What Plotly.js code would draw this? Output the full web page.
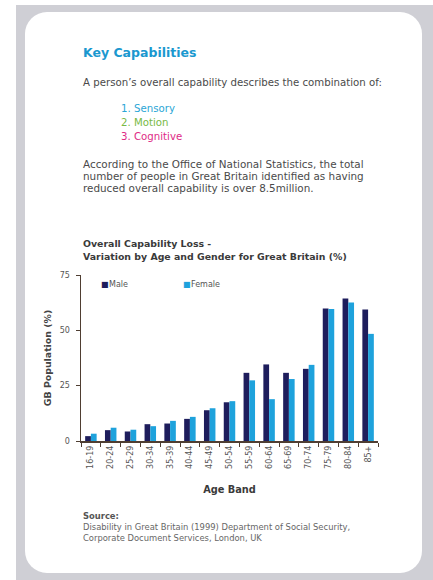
<!DOCTYPE html>
<html>
<head>
<meta charset="utf-8">
<script src="https://cdn.plot.ly/plotly-3.0.1.min.js"></script>
<style>
  html, body { margin: 0; padding: 0; background: #ffffff; }
  #wrap { position: relative; width: 433px; height: 580px; overflow: hidden; }
  #grey { position: absolute; left: 16px; top: 5px; width: 417px; height: 575px; background: #cfcfd5; }
  #card { position: absolute; left: 25px; top: 12px; width: 397px; height: 561px; background: #ffffff; border-radius: 22px; }
  #chart { position: absolute; left: 0; top: 0; width: 433px; height: 580px; }
</style>
</head>
<body>
<div id="wrap">
  <div id="grey"></div>
  <div id="card"></div>
  <div id="chart"></div>
</div>
<script>
// ---- data ----
var ageBands = ["16-19","20-24","25-29","30-34","35-39","40-44","45-49","50-54","55-59","60-64","65-69","70-74","75-79","80-84","85+"];
var maleValues = [2.2, 4.9, 4.3, 7.6, 7.9, 10.0, 13.9, 17.5, 30.8, 34.6, 30.8, 32.6, 59.9, 64.4, 59.4];
var femaleValues = [3.3, 6.0, 5.1, 6.7, 9.1, 10.9, 14.8, 18.0, 27.4, 18.9, 28.0, 34.4, 59.6, 62.6, 48.4];
var seriesNames = ["Male", "Female"];
var yTicks = [0, 25, 50, 75];

// ---- layout geometry (pixels) ----
var W = 433, H = 580;
var L = 81, R = 378, T = 275, B = 441;
function px(x) { return (x - L) / (R - L); }
function py(y) { return (B - y) / (B - T); }

var maleColor = "#1e1d5c", femaleColor = "#1ea2dc";
var FONT = "DejaVu Sans, sans-serif";
var textGrey = "#4a4a4a";
var axisColor = "#4f3e32";

var traces = [
  { type: "bar", name: seriesNames[0], x: ageBands, y: maleValues, marker: { color: maleColor }, hoverinfo: "x+y" },
  { type: "bar", name: seriesNames[1], x: ageBands, y: femaleValues, marker: { color: femaleColor }, hoverinfo: "x+y" }
];

function ann(text, x, y, opts) {
  var a = { text: text, xref: "paper", yref: "paper", x: px(x), y: py(y), xanchor: "left", yanchor: "middle",
            showarrow: false, font: { family: FONT, size: 10, color: textGrey } };
  for (var k in opts) a[k] = opts[k];
  return a;
}

var annotations = [
  ann("<b>Key Capabilities</b>", 81, 53, { font: { family: FONT, size: 12.5, color: "#1b98cf" } }),
  ann("A person\u2019s overall capability describes the combination of:", 81, 82, { font: { family: FONT, size: 10.2, color: textGrey } }),
  ann("1. Sensory", 119, 108, { font: { family: FONT, size: 10.2, color: "#2aa6d6" } }),
  ann("2. Motion", 119, 122, { font: { family: FONT, size: 10.2, color: "#78b944" } }),
  ann("3. Cognitive", 119, 136, { font: { family: FONT, size: 10.2, color: "#de2a86" } }),
  ann("According to the Office of National Statistics, the total", 81, 164, { font: { family: FONT, size: 10.4, color: textGrey } }),
  ann("number of people in Great Britain identified as having", 81, 176, { font: { family: FONT, size: 10.4, color: textGrey } }),
  ann("reduced overall capability is over 8.5million.", 81, 188, { font: { family: FONT, size: 10.4, color: textGrey } }),
  ann("<b>Overall Capability Loss -</b>", 81, 243, { font: { family: FONT, size: 9.4, color: "#3a3a3a" } }),
  ann("<b>Variation by Age and Gender for Great Britain (%)</b>", 81, 256, { font: { family: FONT, size: 9.4, color: "#3a3a3a" } }),
  // legend
  ann("\u25A0", 99, 284, { font: { family: FONT, size: 8, color: maleColor } }),
  ann(seriesNames[0], 107, 284, { font: { family: FONT, size: 8, color: "#555" } }),
  ann("\u25A0", 181, 284, { font: { family: FONT, size: 8, color: femaleColor } }),
  ann(seriesNames[1], 189, 284, { font: { family: FONT, size: 8, color: "#555" } }),
  // source
  ann("<b>Source:</b>", 81, 516, { font: { family: FONT, size: 8.4, color: "#555" } }),
  ann("Disability in Great Britain (1999) Department of Social Security,", 81, 527, { font: { family: FONT, size: 8.4, color: "#666" } }),
  ann("Corporate Document Services, London, UK", 81, 538, { font: { family: FONT, size: 8.4, color: "#666" } })
];

var layout = {
  width: W, height: H,
  margin: { l: L, r: W - R, t: T, b: H - B, pad: 0 },
  paper_bgcolor: "rgba(0,0,0,0)",
  plot_bgcolor: "rgba(0,0,0,0)",
  showlegend: false,
  barmode: "group",
  bargap: 0.42,
  bargroupgap: 0,
  font: { family: FONT, color: textGrey },
  xaxis: {
    type: "category",
    showline: true, linecolor: axisColor, linewidth: 1.5,
    ticks: "outside", tickson: "boundaries", ticklen: 4, tickcolor: axisColor,
    tickangle: -90, tickfont: { family: FONT, size: 8, color: "#555" },
    title: { text: "<b>Age Band</b>", font: { family: FONT, size: 9.8, color: "#3a3a3a" }, standoff: 18 },
    showgrid: false, zeroline: false
  },
  yaxis: {
    range: [0, 75], tickvals: yTicks, ticktext: yTicks.map(String),
    showline: true, linecolor: axisColor, linewidth: 1.5,
    ticks: "outside", ticklen: 4, tickcolor: axisColor, ticklabelstandoff: 4,
    tickfont: { family: FONT, size: 8, color: "#555" },
    title: { text: "<b>GB Population (%)</b>", font: { family: FONT, size: 9.4, color: "#444" }, standoff: 6 },
    showgrid: false, zeroline: false
  },
  annotations: annotations
};

Plotly.newPlot("chart", traces, layout, { displayModeBar: false, staticPlot: true });
</script>
</body>
</html>
